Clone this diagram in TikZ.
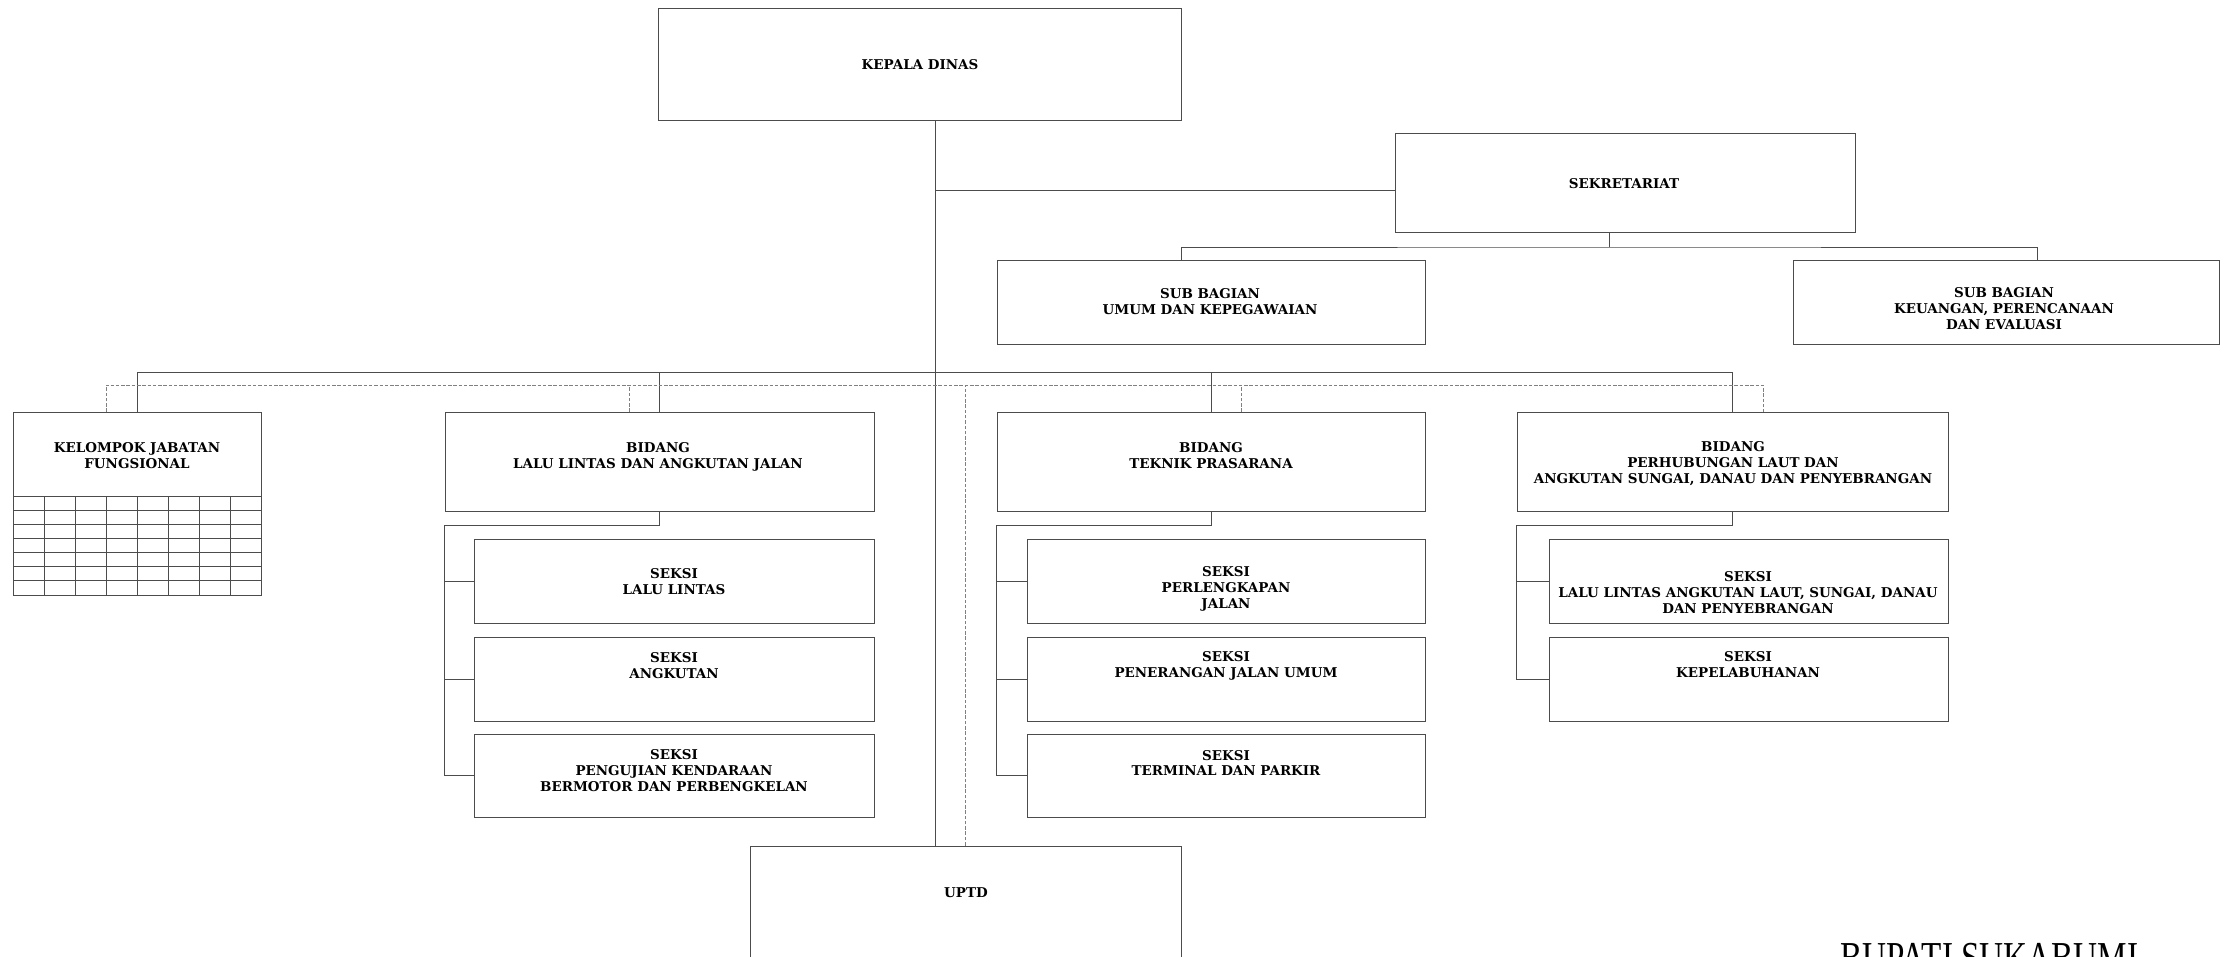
\documentclass[tikz,border=0pt]{standalone}
\usepackage{fontspec}
\setmainfont{DejaVu Serif}
\newfontfamily\bupatifont{Liberation Serif}[FakeStretch=0.75]
\usetikzlibrary{fit,calc}

\begin{document}
\begin{tikzpicture}[x=0.03cm, y=-0.03cm,
            box/.style={draw=black!70, line width=0.8pt, inner sep=0pt},
            lbl/.style={font=\bfseries\fontsize{11.5}{13.6}\selectfont, align=center, inner sep=0pt},
            link/.style={draw=black!70, line width=0.8pt},
            dotlink/.style={draw=black!50, line width=0.6pt, dash pattern=on 3pt off 1.5pt}]
        \useasboundingbox (0,0) rectangle (2227,957);
        \fill[white] (0,0) rectangle (2227,957);
        \clip (0,0) rectangle (2227,957);
        % top
        \node[box, fit={(658,8) (1181,120)}] (kepala) {};
        \node[lbl] (kepala-t) at (920,65) {KEPALA DINAS};
        \node[box, fit={(1395,133) (1855,232)}] (sekre) {};
        \node[lbl] (sekre-t) at (1624,184) {SEKRETARIAT};
        \node[box, fit={(997,260) (1425,344)}] (umum) {};
        \node[lbl] (umum-t) at (1210,302) {SUB BAGIAN\\UMUM DAN KEPEGAWAIAN};
        \node[box, fit={(1793,260) (2219,344)}] (keu) {};
        \node[lbl] (keu-t) at (2004,309) {SUB BAGIAN\\KEUANGAN, PERENCANAAN\\DAN EVALUASI};
        % bidang row
        \node[box, fit={(13,412) (261,595)}] (kjf) {};
        \node[lbl] (kjf-t) at (137,456) {KELOMPOK JABATAN\\FUNGSIONAL};
        \node[box, fit={(445,412) (874,511)}] (llaj) {};
        \node[lbl] (llaj-t) at (658,457) {BIDANG\\LALU LINTAS DAN ANGKUTAN JALAN};
        \node[box, fit={(997,412) (1425,511)}] (tp) {};
        \node[lbl] (tp-t) at (1211,456) {BIDANG\\TEKNIK PRASARANA};
        \node[box, fit={(1517,412) (1948,511)}] (phb) {};
        \node[lbl] (phb-t) at (1733,464) {BIDANG\\PERHUBUNGAN LAUT DAN\\ANGKUTAN SUNGAI, DANAU DAN PENYEBRANGAN};
        % seksi
        \node[box, fit={(474,539) (874,623)}] (ll) {};
        \node[lbl] (ll-t) at (674,582) {SEKSI\\LALU LINTAS};
        \node[box, fit={(474,637) (874,721)}] (angk) {};
        \node[lbl] (angk-t) at (674,666) {SEKSI\\ANGKUTAN};
        \node[box, fit={(474,734) (874,817)}] (uji) {};
        \node[lbl] (uji-t) at (674,771) {SEKSI\\PENGUJIAN KENDARAAN\\BERMOTOR DAN PERBENGKELAN};
        \node[box, fit={(1027,539) (1425,623)}] (perl) {};
        \node[lbl] (perl-t) at (1226,589) {SEKSI\\PERLENGKAPAN\\JALAN};
        \node[box, fit={(1027,637) (1425,721)}] (pju) {};
        \node[lbl] (pju-t) at (1226,666) {SEKSI\\PENERANGAN JALAN UMUM};
        \node[box, fit={(1027,734) (1425,817)}] (term) {};
        \node[lbl] (term-t) at (1226,763) {SEKSI\\TERMINAL DAN PARKIR};
        \node[box, fit={(1549,539) (1948,623)}] (llalaut) {};
        \node[lbl] (llalaut-t) at (1748,593) {SEKSI\\LALU LINTAS ANGKUTAN LAUT, SUNGAI, DANAU\\DAN PENYEBRANGAN};
        \node[box, fit={(1549,637) (1948,721)}] (pel) {};
        \node[lbl] (pel-t) at (1748,665) {SEKSI\\KEPELABUHANAN};
        \node[box, fit={(750,846) (1181,990)}] (uptd) {};
        \node[lbl] (uptd-t) at (966,893) {UPTD};
        \node[anchor=base west, inner sep=0pt, font=\bupatifont\fontsize{37.7}{40}\selectfont] (bupati) at (1840,972) {BUPATI SUKABUMI};
        % table of kelompok jabatan
        \foreach \i in {0,...,6}
            \draw[link] (13,496+\i*14.14) -- (261,496+\i*14.14);
        \foreach \i in {1,...,7}
            \draw[link] (13+\i*31,496) -- (13+\i*31,595);
        % lines
        \coordinate (main) at (935,0);
        \coordinate (bus) at (0,372);
        \coordinate (dbus) at (0,385);
        \draw[link] (kepala.south -| main) -- (uptd.north -| main);
        \draw[link] (main |- {$(sekre.north west)!0.575!(sekre.south west)$}) -- ($(sekre.north west)!0.575!(sekre.south west)$);
        \coordinate (sekre-j) at (1609,247);
        \coordinate (umum-in) at (1181,260);
        \coordinate (keu-in) at (2037,260);
        \draw[link] (sekre.south -| sekre-j) -- (sekre-j);
        \draw[link] (umum-in) |- (sekre-j) -| (keu-in);
        \draw[link] (kjf.north) -- (kjf.north |- bus) -- (phb.north |- bus) -- (phb.north);
        \foreach \n in {llaj, tp}
            \draw[link] (\n.north) -- (\n.north |- bus);
        \coordinate (kjf-d) at (106,412);
        \coordinate (llaj-d) at (629,412);
        \coordinate (tp-d) at (1241,412);
        \coordinate (phb-d) at (1763,412);
        \draw[dotlink] (kjf-d) |- (phb-d |- dbus) -- (phb-d);
        \foreach \n in {llaj-d, tp-d}
            \draw[dotlink] (\n) -- (\n |- dbus);
        \draw[dotlink] (uptd.north) -- (uptd.north |- dbus);
        % seksi rails
        \coordinate (llaj-rail) at ([yshift=-0.42cm]llaj.south west);
        \coordinate (tp-rail) at ([yshift=-0.42cm]tp.south west);
        \coordinate (phb-rail) at ([yshift=-0.42cm]phb.south west);
        \draw[link] (llaj.south) |- (llaj-rail) |- (uji.west);
        \foreach \n in {ll, angk}
            \draw[link] (llaj-rail |- \n.west) -- (\n.west);
        \draw[link] (tp.south) |- (tp-rail) |- (term.west);
        \foreach \n in {perl, pju}
            \draw[link] (tp-rail |- \n.west) -- (\n.west);
        \draw[link] (phb.south) |- (phb-rail) |- (pel.west);
        \draw[link] (phb-rail |- llalaut.west) -- (llalaut.west);
\end{tikzpicture}
\end{document}
